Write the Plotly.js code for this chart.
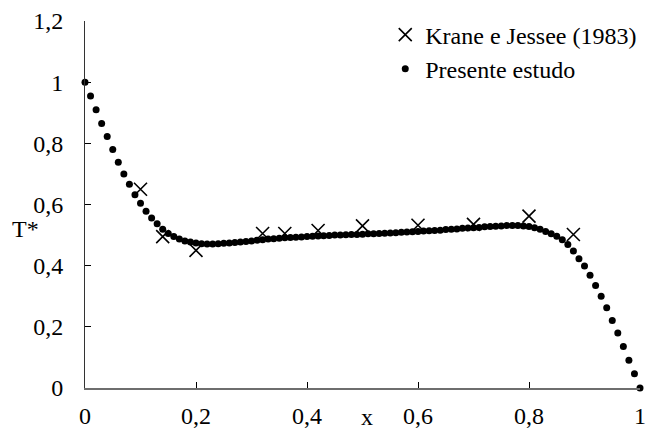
<!DOCTYPE html>
<html>
<head>
<meta charset="utf-8">
<script src="https://cdn.plot.ly/plotly-3.0.1.min.js"></script>
<style>html,body{margin:0;padding:0;background:#fff;}#chart{width:649px;height:432px;}</style>
</head>
<body>
<div id="chart"></div>
<script>
// Presente estudo (numerical solution)
const presenteX = [0.00,0.01,0.02,0.03,0.04,0.05,0.06,0.07,0.08,0.09,
  0.10,0.11,0.12,0.13,0.14,0.15,0.16,0.17,0.18,0.19,
  0.20,0.21,0.22,0.23,0.24,0.25,0.26,0.27,0.28,0.29,
  0.30,0.31,0.32,0.33,0.34,0.35,0.36,0.37,0.38,0.39,
  0.40,0.41,0.42,0.43,0.44,0.45,0.46,0.47,0.48,0.49,
  0.50,0.51,0.52,0.53,0.54,0.55,0.56,0.57,0.58,0.59,
  0.60,0.61,0.62,0.63,0.64,0.65,0.66,0.67,0.68,0.69,
  0.70,0.71,0.72,0.73,0.74,0.75,0.76,0.77,0.78,0.79,
  0.80,0.81,0.82,0.83,0.84,0.85,0.86,0.87,0.88,0.89,
  0.90,0.91,0.92,0.93,0.94,0.95,0.96,0.97,0.98,0.99,1.00];
const presenteT = [1.000,0.955,0.910,0.865,0.822,0.780,0.738,0.700,0.666,0.632,
  0.604,0.578,0.556,0.537,0.519,0.505,0.495,0.487,0.481,0.477,
  0.474,0.472,0.471,0.471,0.472,0.473,0.474,0.476,0.477,0.479,
  0.481,0.483,0.485,0.487,0.488,0.490,0.491,0.492,0.493,0.494,
  0.495,0.496,0.497,0.498,0.499,0.500,0.500,0.501,0.502,0.502,
  0.503,0.504,0.504,0.505,0.506,0.507,0.508,0.509,0.510,0.511,
  0.512,0.513,0.514,0.515,0.516,0.518,0.519,0.520,0.522,0.523,
  0.524,0.525,0.527,0.528,0.529,0.530,0.531,0.531,0.531,0.530,
  0.528,0.524,0.519,0.512,0.504,0.496,0.485,0.469,0.448,0.423,
  0.399,0.369,0.335,0.300,0.262,0.221,0.180,0.136,0.091,0.047,0.000];

// Krane e Jessee (1983)
const kraneX = [0.10,0.14,0.20,0.32,0.36,0.42,0.50,0.60,0.70,0.80,0.88];
const kraneT = [0.650,0.495,0.450,0.505,0.505,0.515,0.530,0.532,0.535,0.562,0.502];

const xTickVals = [0,0.2,0.4,0.6,0.8,1];
const yTickVals = [0,0.2,0.4,0.6,0.8,1,1.2];

const fontFamily = "Liberation Serif, serif";
const fs = 24;

const traces = [
  {
    x: kraneX, y: kraneT, type: 'scatter', mode: 'markers',
    name: 'Krane e Jessee (1983)',
    marker: {symbol: 'x-thin', size: 13, color: '#000', line: {color: '#000', width: 1.6}},
    cliponaxis: false
  },
  {
    x: presenteX, y: presenteT, type: 'scatter', mode: 'markers',
    name: 'Presente estudo',
    marker: {symbol: 'circle', size: 7, color: '#000'},
    cliponaxis: false
  }
];

const layout = {
  width: 649, height: 432,
  margin: {l: 85, r: 7, t: 21, b: 44},
  paper_bgcolor: '#fff', plot_bgcolor: '#fff',
  separators: ',.',
  font: {family: fontFamily, size: fs, color: '#000'},
  showlegend: true,
  legend: {
    x: 0.541, y: 1.023, xanchor: 'left', yanchor: 'top',
    bgcolor: 'rgba(0,0,0,0)', borderwidth: 0,
    font: {family: fontFamily, size: fs, color: '#000'},
    itemwidth: 30, tracegroupgap: 0
  },
  xaxis: {
    range: [0, 1], tickvals: xTickVals, ticks: 'inside', ticklen: 6, tickwidth: 1,
    tickcolor: '#000', showgrid: false, zeroline: false,
    showline: true, linecolor: '#6e6e6e', linewidth: 2,
    tickfont: {family: fontFamily, size: fs, color: '#000'},
    ticklabelstandoff: 5, ticklabeloverflow: 'allow', fixedrange: true
  },
  yaxis: {
    range: [0, 1.2], tickvals: yTickVals, ticks: 'inside', ticklen: 6, tickwidth: 1,
    tickcolor: '#000', showgrid: false, zeroline: false,
    showline: true, linecolor: '#333', linewidth: 1,
    tickfont: {family: fontFamily, size: fs, color: '#000'},
    ticklabelstandoff: 16, fixedrange: true
  },
  annotations: [
    {text: 'T*', xref: 'paper', yref: 'y', x: -0.108, y: 0.52, xanchor: 'center', yanchor: 'middle',
     showarrow: false, font: {family: fontFamily, size: fs, color: '#000'}},
    {text: 'x', xref: 'paper', yref: 'paper', x: 0.508, y: -0.121, xanchor: 'center', yanchor: 'bottom',
     showarrow: false, font: {family: fontFamily, size: fs, color: '#000'}}
  ]
};

Plotly.newPlot('chart', traces, layout, {displayModeBar: false, staticPlot: true});
</script>
</body>
</html>
